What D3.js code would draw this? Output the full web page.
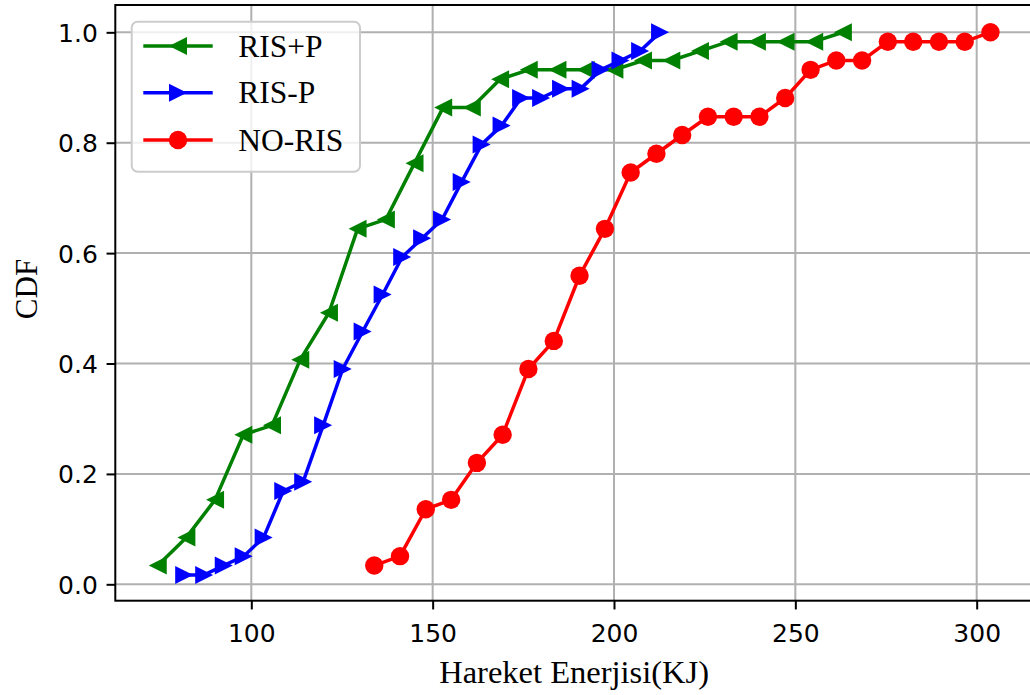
<!DOCTYPE html>
<html>
<head>
<meta charset="utf-8">
<script src="https://cdn.jsdelivr.net/npm/d3@7/dist/d3.min.js"></script>
<style>
  html, body { margin: 0; padding: 0; background: #ffffff; }
  svg { display: block; }
</style>
</head>
<body>
<svg id="chart" width="1030" height="695"></svg>
<script>
// Energy values (KJ) and cumulative probabilities for each scheme
const risPlusX = [74.2, 82.1, 90.0, 97.8, 105.7, 113.5, 121.4, 129.3, 137.1, 145.0, 152.9, 160.8, 168.6, 176.5, 184.4, 192.2, 200.1, 208.0, 215.8, 223.7, 231.6, 239.4, 247.3, 255.2, 263.1];
const risPlusY = [0.034, 0.085, 0.153, 0.271, 0.288, 0.407, 0.492, 0.644, 0.661, 0.763, 0.864, 0.864, 0.915, 0.932, 0.932, 0.932, 0.932, 0.949, 0.949, 0.966, 0.983, 0.983, 0.983, 0.983, 1.0];

const risMinusX = [81.5, 87.0, 92.4, 97.9, 103.4, 108.8, 114.3, 119.8, 125.2, 130.7, 136.2, 141.6, 147.1, 152.6, 158.0, 163.5, 169.0, 174.4, 179.9, 185.4, 190.8, 196.3, 201.8, 207.2, 212.7];
const risMinusY = [0.017, 0.017, 0.034, 0.051, 0.085, 0.169, 0.186, 0.288, 0.390, 0.458, 0.525, 0.593, 0.627, 0.661, 0.729, 0.797, 0.831, 0.881, 0.881, 0.898, 0.898, 0.932, 0.949, 0.966, 1.0];

const noRisX = [133.9, 141.0, 148.1, 155.1, 162.2, 169.3, 176.4, 183.4, 190.5, 197.5, 204.6, 211.7, 218.8, 225.9, 233.0, 240.1, 247.2, 254.2, 261.3, 268.4, 275.5, 282.5, 289.6, 296.7, 303.8];
const noRisY = [0.034, 0.051, 0.136, 0.153, 0.220, 0.271, 0.390, 0.441, 0.559, 0.644, 0.746, 0.780, 0.814, 0.847, 0.847, 0.847, 0.881, 0.932, 0.949, 0.949, 0.983, 0.983, 0.983, 0.983, 1.0];

const seriesNames = ["RIS+P", "RIS-P", "NO-RIS"];
const xTickValues = [100, 150, 200, 250, 300];
const yTickValues = [0.0, 0.2, 0.4, 0.6, 0.8, 1.0];
const xLabel = "Hareket Enerjisi(KJ)";
const yLabel = "CDF";

const series = [
  { name: seriesNames[0], xs: risPlusX, ys: risPlusY, color: "#008000", marker: "left" },
  { name: seriesNames[1], xs: risMinusX, ys: risMinusY, color: "#0000ff", marker: "right" },
  { name: seriesNames[2], xs: noRisX, ys: noRisY, color: "#ff0000", marker: "circle" }
];

const svg = d3.select("#chart");
svg.append("rect").attr("width", 1030).attr("height", 695).attr("fill", "#ffffff");

const plot = { left: 115.3, right: 1032.9, top: 5, bottom: 600.7 };

const x = d3.scaleLinear().domain([62.5, 315.5]).range([plot.left, plot.right]);
const y = d3.scaleLinear().domain([-0.0297, 1.0495]).range([plot.bottom, plot.top]);

const tickFont = "'DejaVu Sans', sans-serif";
const serifFont = "'Liberation Serif', 'Times New Roman', serif";

// grid
const grid = svg.append("g").attr("class", "grid");
grid.selectAll("line.gx").data(xTickValues).join("line")
  .attr("x1", d => x(d)).attr("x2", d => x(d))
  .attr("y1", plot.top).attr("y2", plot.bottom)
  .attr("stroke", "#b0b0b0").attr("stroke-width", 2);
grid.selectAll("line.gy").data(yTickValues).join("line")
  .attr("x1", plot.left).attr("x2", plot.right)
  .attr("y1", d => y(d)).attr("y2", d => y(d))
  .attr("stroke", "#b0b0b0").attr("stroke-width", 2);

// axes
const xAxis = svg.append("g")
  .attr("transform", `translate(0,${plot.bottom})`)
  .call(d3.axisBottom(x).tickValues(xTickValues).tickFormat(d3.format("d")).tickSize(8.75).tickSizeOuter(0));
const yAxis = svg.append("g")
  .attr("transform", `translate(${plot.left},0)`)
  .call(d3.axisLeft(y).tickValues(yTickValues).tickFormat(d3.format(".1f")).tickSize(8.75).tickSizeOuter(0));

[xAxis, yAxis].forEach(a => {
  a.select(".domain").remove();
  a.selectAll(".tick line").attr("stroke", "#000").attr("stroke-width", 2);
  a.selectAll(".tick text").attr("fill", "#000")
    .style("font-family", tickFont).style("font-size", "25px");
});
xAxis.selectAll(".tick text").attr("y", 41.3).attr("dy", null);
yAxis.selectAll(".tick text").attr("x", -17.5).attr("dy", "0.36em");

// series lines and markers
const tri = 18;
function markerPath(kind) {
  const h = tri / 2;
  if (kind === "left") return `M${-h},0L${h},${-h}L${h},${h}Z`;
  if (kind === "right") return `M${h},0L${-h},${-h}L${-h},${h}Z`;
  return null;
}

const plotArea = svg.append("g");
series.forEach(s => {
  const pts = s.xs.map((v, i) => [v, s.ys[i]]);
  const g = plotArea.append("g");
  g.append("path")
    .attr("d", d3.line().x(d => x(d[0])).y(d => y(d[1]))(pts))
    .attr("fill", "none").attr("stroke", s.color).attr("stroke-width", 3.5)
    .attr("stroke-linejoin", "round").attr("stroke-linecap", "square");
  if (s.marker === "circle") {
    g.selectAll("circle").data(pts).join("circle")
      .attr("cx", d => x(d[0])).attr("cy", d => y(d[1])).attr("r", 9.2)
      .attr("fill", s.color);
  } else {
    g.selectAll("path.m").data(pts).join("path").attr("class", "m")
      .attr("transform", d => `translate(${x(d[0])},${y(d[1])})`)
      .attr("d", markerPath(s.marker))
      .attr("fill", s.color);
  }
});

// frame
svg.append("rect")
  .attr("x", plot.left).attr("y", plot.top)
  .attr("width", plot.right - plot.left).attr("height", plot.bottom - plot.top)
  .attr("fill", "none").attr("stroke", "#000").attr("stroke-width", 2);

// axis titles
svg.append("text")
  .attr("x", (plot.left + plot.right) / 2).attr("y", 683)
  .attr("text-anchor", "middle")
  .style("font-family", serifFont).style("font-size", "32.5px").attr("fill", "#000")
  .text(xLabel);
svg.append("text")
  .attr("transform", "translate(37,289) rotate(-90)")
  .attr("text-anchor", "middle")
  .style("font-family", serifFont).style("font-size", "31px").attr("fill", "#000")
  .text(yLabel);

// legend
const legend = svg.append("g");
legend.append("rect")
  .attr("x", 131.7).attr("y", 21.7).attr("width", 228.3).attr("height", 150)
  .attr("rx", 6).attr("ry", 6)
  .attr("fill", "#ffffff").attr("fill-opacity", 0.8)
  .attr("stroke", "#cccccc").attr("stroke-width", 2);
const rowY = [46, 92.7, 140];
series.forEach((s, i) => {
  const row = legend.append("g").attr("transform", `translate(0,${rowY[i]})`);
  row.append("line").attr("x1", 143.3).attr("x2", 212.7).attr("y1", 0).attr("y2", 0)
    .attr("stroke", s.color).attr("stroke-width", 3.5);
  if (s.marker === "circle") {
    row.append("circle").attr("cx", 178).attr("cy", 0).attr("r", 9.2).attr("fill", s.color);
  } else {
    row.append("path").attr("transform", "translate(178,0)").attr("d", markerPath(s.marker)).attr("fill", s.color);
  }
  row.append("text").attr("x", 238.3).attr("y", 0).attr("dy", "0.34em")
    .style("font-family", serifFont).style("font-size", "31.5px").attr("fill", "#000")
    .text(s.name);
});
</script>
</body>
</html>
